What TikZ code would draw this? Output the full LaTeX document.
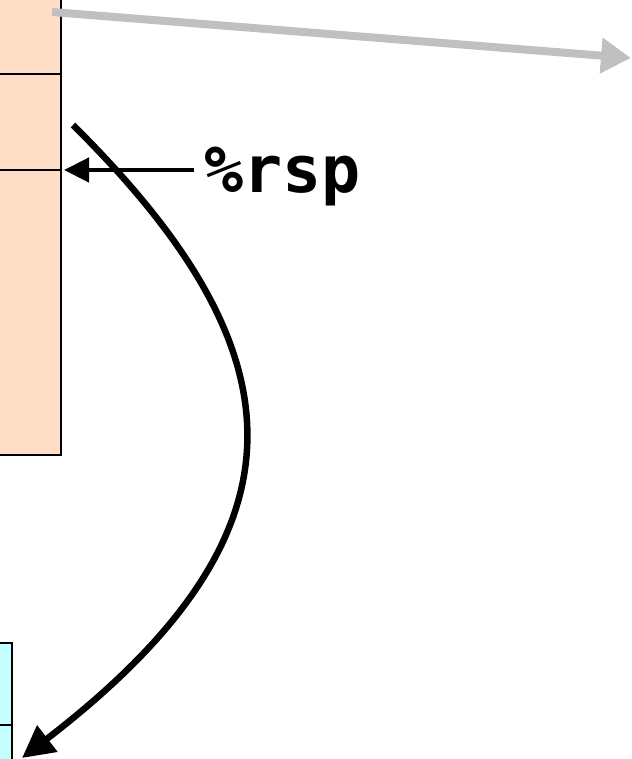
\documentclass[tikz,border=0pt]{standalone}
\usepackage{fontspec}
\setmonofont{DejaVu Sans Mono}
\usetikzlibrary{arrows.meta}
\definecolor{pe}{HTML}{FFDEC8}
\definecolor{cy}{HTML}{C4FFFF}
\definecolor{gy}{HTML}{C0C0C0}

\tikzset{
  cell/.style={draw=black, line width=2pt, inner sep=0pt, outer sep=0pt},
}

\begin{document}
\begin{tikzpicture}[x=1pt, y=-1pt]
  \useasboundingbox (0,0) rectangle (631,759);

  % upper stack
  \filldraw[cell, fill=pe] (-40,-40) rectangle (61,74);
  \filldraw[cell, fill=pe] (-40,74) rectangle (61,170);
  \filldraw[cell, fill=pe] (-40,170) rectangle (61,455);
  % lower stack
  \filldraw[cell, fill=cy] (-40,643) rectangle (12,725);
  \filldraw[cell, fill=cy] (-40,725) rectangle (12,800);

  \coordinate (top) at (52,12);
  \coordinate (far) at (631,58);
  \coordinate (sp) at (64,170);
  \coordinate (from) at (73,125);
  \coordinate (to) at (22,758);

  \node[anchor=west, inner sep=0pt, font=\fontsize{65}{68}\selectfont\ttfamily\bfseries] (rsp) at (204,177) {\%rsp};
  \coordinate (tail) at (194,170);

  \draw[gy, line width=8pt, -{Triangle[length=30pt,width=34pt]}] (top) -- (far);
  \draw[line width=4.5pt, -{Triangle[length=25pt,width=24pt]}] (tail) -- (sp);
  \draw[line width=6.5pt, -{Triangle[length=32pt,width=32pt]}] (from) .. controls (300,350) and (320,529) .. (to);
\end{tikzpicture}
\end{document}
